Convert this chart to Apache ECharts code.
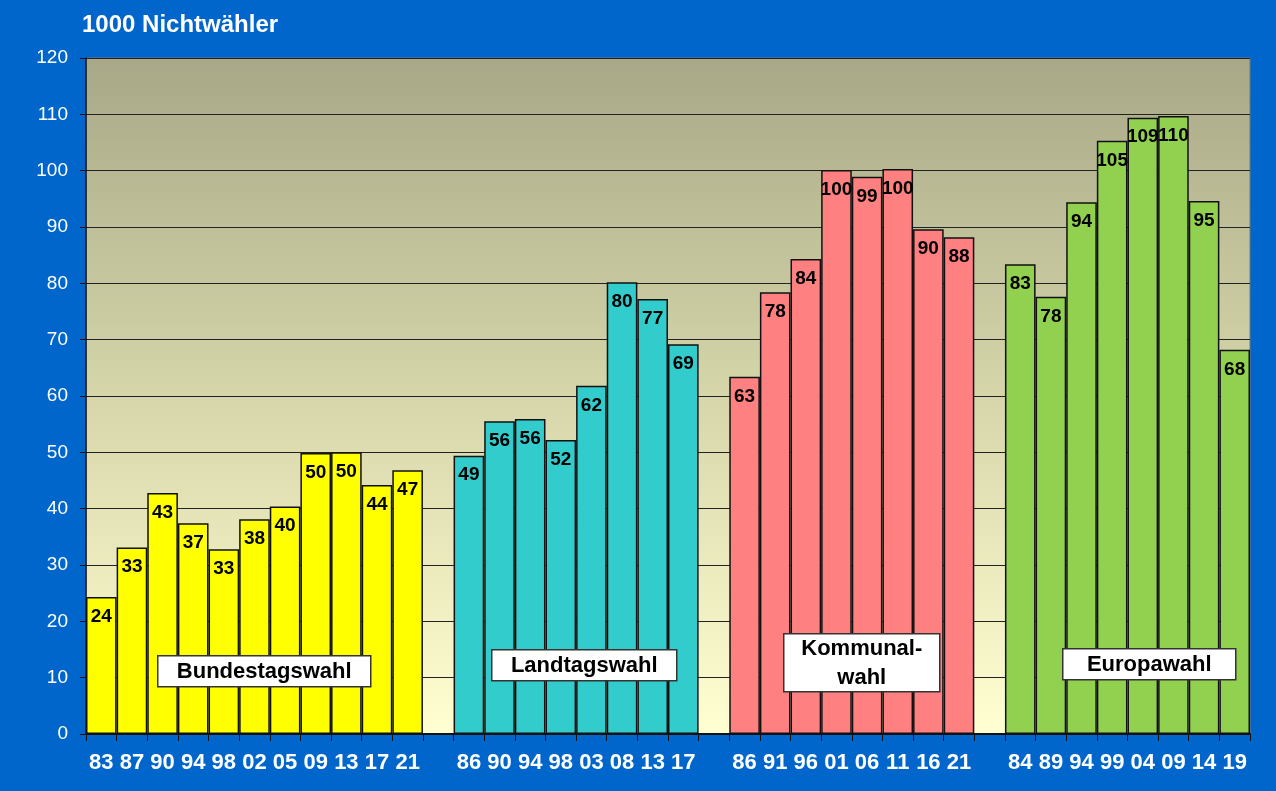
<!DOCTYPE html>
<html>
<head>
    <meta charset="utf-8"/>
    <title>1000 Nichtwähler</title>
    <script src="https://cdn.jsdelivr.net/npm/echarts@6/dist/echarts.min.js"></script>
    <style>
        html, body { margin: 0; padding: 0; background: #0066cc; }
        #chart { width: 1276px; height: 791px; }
    </style>
</head>
<body>
<div id="chart"></div>
<script type="text/javascript">
    // Jahre (zweistellig) und Nichtwähler in Tausend je Wahlart
    var bundYears = ['83', '87', '90', '94', '98', '02', '05', '09', '13', '17', '21'];
    var bundValues = [24.3, 33.1, 42.8, 37.4, 32.8, 38.1, 40.4, 49.9, 50.0, 44.2, 46.8];

    var landYears = ['86', '90', '94', '98', '03', '08', '13', '17'];
    var landValues = [49.4, 55.5, 55.9, 52.2, 61.8, 80.2, 77.2, 69.2];

    var kommYears = ['86', '91', '96', '01', '06', '11', '16', '21'];
    var kommValues = [63.4, 78.4, 84.3, 100.1, 98.9, 100.3, 89.6, 88.2];

    var euroYears = ['84', '89', '94', '99', '04', '09', '14', '19'];
    var euroValues = [83.4, 77.6, 94.4, 105.3, 109.4, 109.7, 94.6, 68.2];

    var groups = [
        {years: bundYears, values: bundValues, color: '#ffff00'},
        {years: landYears, values: landValues, color: '#33cccc'},
        {years: kommYears, values: kommValues, color: '#ff8080'},
        {years: euroYears, values: euroValues, color: '#92d050'}
    ];

    // Kategorien mit je einer Leerspalte zwischen den Gruppen
    var categories = [];
    var offsets = [];
    groups.forEach(function (g, i) {
        if (i > 0) categories.push(' ' + i);
        offsets.push(categories.length);
        categories = categories.concat(g.years.map(function (y) { return y + '_' + i; }));
    });

    var series = groups.map(function (g, i) {
        var data = categories.map(function () { return '-'; });
        g.values.forEach(function (v, k) { data[offsets[i] + k] = v; });
        return {
            type: 'bar',
            stack: 'all',
            barCategoryGap: 0,
            data: data,
            itemStyle: {color: g.color, borderColor: '#111', borderWidth: 1.5},
            label: {
                show: true,
                position: 'insideTop',
                distance: 10,
                color: '#000',
                fontFamily: 'Liberation Sans, Arial, sans-serif',
                fontWeight: 'bold',
                fontSize: 19,
                formatter: function (p) { return Math.round(p.value); }
            }
        };
    });

    function box(x, y, w, h, text) {
        return {
            type: 'group',
            left: x,
            top: y,
            z: 100,
            children: [{
                type: 'rect',
                z: 100,
                shape: {x: 0, y: 0, width: w, height: h},
                style: {fill: '#fff', stroke: '#333', lineWidth: 1.5}
            }, {
                type: 'text',
                z: 101,
                x: w / 2,
                y: h / 2 + 1,
                style: {
                    text: text,
                    fill: '#000',
                    font: 'bold 22px "Liberation Sans", Arial, sans-serif',
                    align: 'center',
                    verticalAlign: 'middle',
                    lineHeight: 29
                }
            }]
        };
    }

    var chart = echarts.init(document.getElementById('chart'));
    chart.setOption({
        backgroundColor: '#0066cc',
        animation: false,
        title: {
            text: '1000 Nichtwähler',
            left: 77,
            top: 8,
            textStyle: {
                color: '#fff',
                fontFamily: 'Liberation Sans, Arial, sans-serif',
                fontWeight: 'bold',
                fontSize: 24
            }
        },
        grid: {
            left: 86,
            right: 26,
            top: 58,
            bottom: 57,
            show: true,
            borderColor: '#777',
            borderWidth: 1,
            backgroundColor: new echarts.graphic.LinearGradient(0, 0, 0, 1, [
                {offset: 0, color: '#a8a888'},
                {offset: 0.5, color: '#d6d6aa'},
                {offset: 1, color: '#ffffd2'}
            ])
        },
        xAxis: {
            type: 'category',
            data: categories,
            axisLine: {lineStyle: {color: '#111', width: 2}},
            axisTick: {show: true, length: 7, lineStyle: {color: '#111'}},
            axisLabel: {
                interval: 0,
                color: '#fff',
                margin: 18,
                fontFamily: 'Liberation Sans, Arial, sans-serif',
                fontWeight: 'bold',
                fontSize: 22,
                formatter: function (v) { return v.charAt(0) === ' ' ? '' : v.split('_')[0]; }
            }
        },
        yAxis: {
            type: 'value',
            min: 0,
            max: 120,
            interval: 10,
            axisLine: {show: true, lineStyle: {color: '#111', width: 1.5}},
            axisTick: {show: true, length: 6, lineStyle: {color: '#111'}},
            splitLine: {lineStyle: {color: '#222', width: 1}},
            axisLabel: {
                color: '#fff',
                margin: 18,
                fontFamily: 'Liberation Sans, Arial, sans-serif',
                fontSize: 19
            }
        },
        series: series,
        graphic: [
            box(157, 655, 213, 31, 'Bundestagswahl'),
            box(491, 649, 185, 31, 'Landtagswahl'),
            box(783, 633, 156, 58, 'Kommunal-\nwahl'),
            box(1062, 648, 173, 31, 'Europawahl')
        ]
    });
</script>
</body>
</html>
